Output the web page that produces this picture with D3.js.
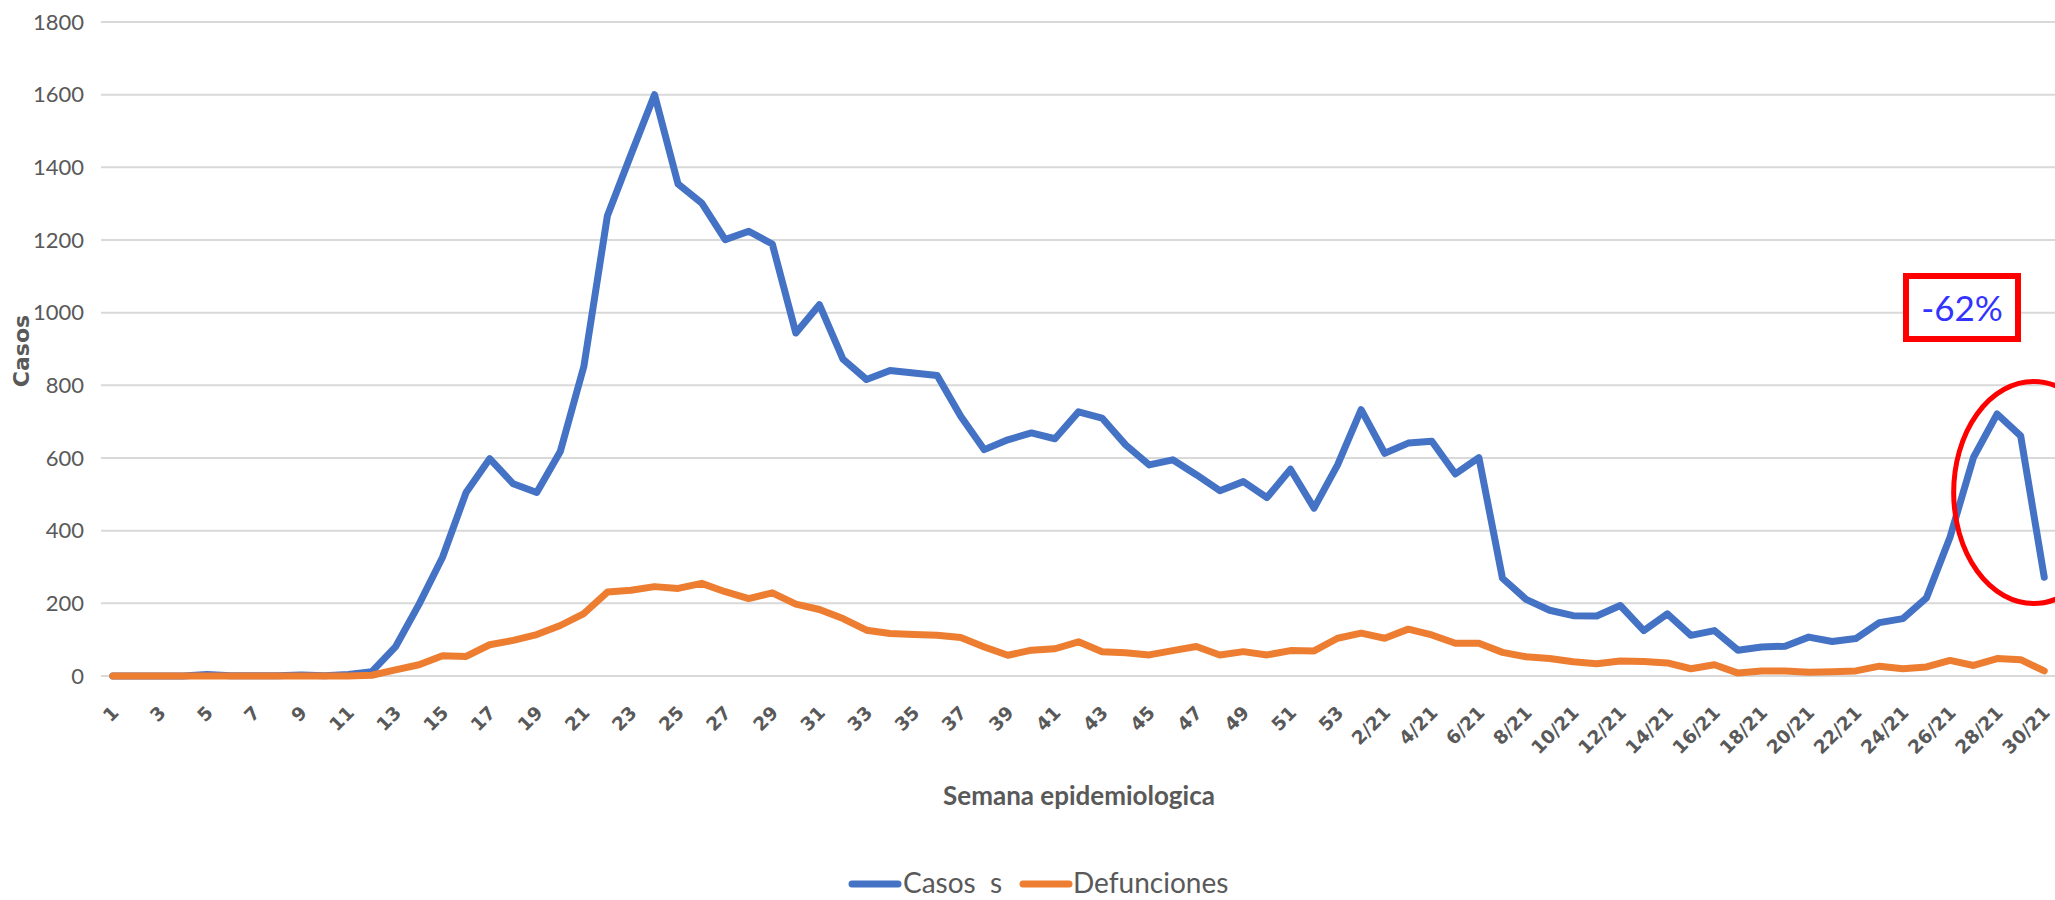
<!DOCTYPE html>
<html>
<head>
<meta charset="utf-8">
<script src="https://cdn.jsdelivr.net/npm/d3@7"></script>
<style>
  html, body { margin: 0; padding: 0; background: #ffffff; }
  svg { display: block; }
</style>
</head>
<body>
<svg id="chart" width="2055" height="900"></svg>
<script>
// Epidemiological weeks: 2020 weeks 1-53, then 2021 weeks 1/21-30/21
const weeks2020 = d3.range(1, 54).map(String);
const weeks2021 = d3.range(1, 31).map(w => w + "/21");
const weeks = weeks2020.concat(weeks2021);

// Weekly confirmed cases
const casos = [
  0, 0, 0, 0, 4, 1, 1, 1, 3, 1, 4, 12,
  80, 197, 327, 505, 598, 529, 505, 618,
  852, 1267, 1435, 1600, 1354, 1302, 1201, 1224, 1189, 944,
  1022, 872, 816, 841, 834, 827, 715, 623, 650, 669,
  653, 727, 710, 636, 581, 595, 554, 510, 535, 491,
  569, 462, 581, 733, 613, 641, 646, 556, 601, 269,
  211, 181, 166, 165, 194, 125, 171, 112, 125, 71,
  80, 82, 107, 95, 103, 147, 158, 215, 382, 602,
  721, 661, 272
];

// Weekly deaths
const defunciones = [
  0, 0, 0, 0, 0, 0, 0, 0, 0, 0, 0, 2,
  17, 31, 56, 54, 86, 98, 114, 139, 172, 231,
  236, 246, 241, 255, 232, 213, 229, 198, 183, 158,
  126, 117, 114, 112, 106, 80, 57, 71, 75, 94,
  67, 64, 58, 70, 81, 58, 67, 58, 70, 69,
  104, 118, 104, 129, 113, 90, 90, 65, 53, 48,
  39, 34, 41, 40, 36, 20, 31, 8, 14, 14,
  10, 12, 14, 27, 20, 25, 43, 29, 48, 45, 14
];

const yTicks = d3.range(0, 1801, 200);
const seriesNames = ["Casos  s", "Defunciones"];
const seriesColors = ["#4472C4", "#ED7D31"];
const changeLabel = "-62%";

const svg = d3.select("#chart");
const W = 2055, H = 900;
const plot = { left: 101, right: 2056, top: 22, bottom: 676 };
const textGray = "#595959";
const sans = "Lato, 'Open Sans', sans-serif";

svg.append("rect").attr("width", W).attr("height", H).attr("fill", "#fff");

const x = d3.scaleBand().domain(weeks).range([plot.left, plot.right]).padding(0);
const cx = d => x(d) + x.bandwidth() / 2;
const y = d3.scaleLinear().domain([0, 1800]).range([plot.bottom, plot.top]);

// Horizontal gridlines
svg.append("g")
  .selectAll("line")
  .data(yTicks)
  .join("line")
  .attr("x1", plot.left)
  .attr("x2", W)
  .attr("y1", d => y(d))
  .attr("y2", d => y(d))
  .attr("stroke", "#d9d9d9")
  .attr("stroke-width", 2);

// Y axis labels
const yAxis = svg.append("g")
  .attr("transform", `translate(${plot.left},0)`)
  .call(d3.axisLeft(y).tickValues(yTicks).tickFormat(d3.format("d")).tickSize(0).tickPadding(17));
yAxis.select(".domain").remove();
yAxis.selectAll("text")
  .attr("fill", textGray)
  .style("font-family", sans)
  .style("font-size", "22px");

// X axis labels (every other week), rotated
const xAxis = svg.append("g")
  .attr("transform", `translate(0,${plot.bottom})`)
  .call(d3.axisBottom(x).tickValues(weeks.filter((d, i) => i % 2 === 0)).tickSize(0));
xAxis.select(".domain").remove();
xAxis.selectAll("text")
  .attr("fill", textGray)
  .attr("text-anchor", "end")
  .attr("dy", null)
  .attr("y", 0)
  .attr("transform", "translate(7,38) rotate(-45)")
  .style("font-family", "'DejaVu Sans', sans-serif")
  .style("font-weight", "bold")
  .style("font-size", "18.5px");

// Axis titles
svg.append("text")
  .attr("transform", "translate(21,351) rotate(-90)")
  .attr("text-anchor", "middle")
  .attr("dy", "0.36em")
  .attr("fill", textGray)
  .style("font-family", "'DejaVu Sans', sans-serif")
  .style("font-weight", "bold")
  .style("font-size", "22px")
  .text("Casos");

svg.append("text")
  .attr("x", 1079)
  .attr("y", 805)
  .attr("text-anchor", "middle")
  .attr("fill", textGray)
  .style("font-family", sans)
  .style("font-weight", "bold")
  .style("font-size", "26px")
  .text("Semana epidemiologica");

// Series lines
const line = d3.line()
  .x((d, i) => cx(weeks[i]))
  .y(d => y(d))
  .curve(d3.curveLinear);

[casos, defunciones].forEach((vals, k) => {
  svg.append("path")
    .datum(vals)
    .attr("d", line)
    .attr("fill", "none")
    .attr("stroke", seriesColors[k])
    .attr("stroke-width", 7)
    .attr("stroke-linejoin", "round")
    .attr("stroke-linecap", "round");
});

// Annotation: highlighted recent peak and percentage change
const peakIdx = weeks.indexOf("29/21");
svg.append("ellipse")
  .attr("cx", cx(weeks[peakIdx]) + 13)
  .attr("cy", y(505))
  .attr("rx", 80)
  .attr("ry", 111)
  .attr("fill", "none")
  .attr("stroke", "#ff0000")
  .attr("stroke-width", 5);

svg.append("rect")
  .attr("x", 1906)
  .attr("y", 276)
  .attr("width", 112)
  .attr("height", 63)
  .attr("fill", "#fff")
  .attr("stroke", "#ff0000")
  .attr("stroke-width", 6);

svg.append("text")
  .attr("x", 1962)
  .attr("y", 321)
  .attr("text-anchor", "middle")
  .attr("fill", "#3333ff")
  .style("font-family", sans)
  .style("font-size", "35px")
  .text(changeLabel);

// Legend
const legend = svg.append("g");
const legendItems = [
  { name: seriesNames[0], color: seriesColors[0], x1: 852, tx: 903 },
  { name: seriesNames[1], color: seriesColors[1], x1: 1023, tx: 1073 }
];
legendItems.forEach(it => {
  legend.append("line")
    .attr("x1", it.x1).attr("x2", it.x1 + 46)
    .attr("y1", 884).attr("y2", 884)
    .attr("stroke", it.color)
    .attr("stroke-width", 7)
    .attr("stroke-linecap", "round");
  legend.append("text")
    .attr("x", it.tx)
    .attr("y", 893)
    .attr("fill", textGray)
    .attr("xml:space", "preserve")
    .style("white-space", "pre")
    .style("font-family", sans)
    .style("font-size", "28px")
    .text(it.name);
});
</script>
</body>
</html>
